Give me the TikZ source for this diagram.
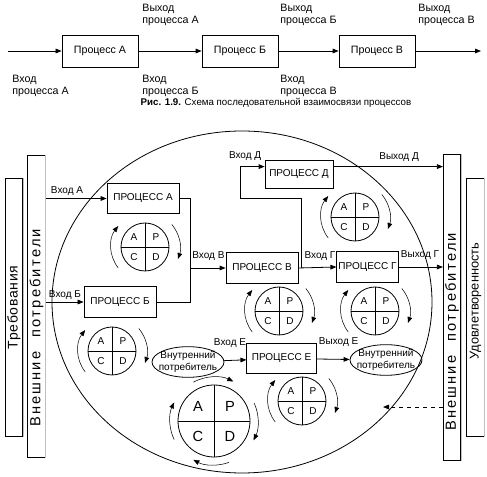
\documentclass[tikz,border=0pt]{standalone}
\usepackage{fontspec}
\setmainfont{Liberation Sans}
\usetikzlibrary{arrows.meta,positioning,shapes.geometric}

\begin{document}
\begin{tikzpicture}[
    x = 0.75pt, y = 0.75pt, % one unit is one pixel of the scan
    > = {Triangle[length=4.5pt,width=3.5pt]}, % arrow head style
    semithick, % line style
    font = \fontsize{7.5}{9}\selectfont
    ]

    \tikzset{
    proc/.style = {draw, minimum width=57pt, minimum height=24pt, font=\fontsize{8}{9}\selectfont},
    process/.style = {draw, inner sep=0pt, minimum width=54pt, minimum height=23pt},
    bar/.style = {draw, inner sep=0pt, minimum width=13pt},
    bartext/.style = {rotate=90, inner sep=0pt, font=\fontsize{10}{12}\selectfont},
    consumer/.style = {draw, ellipse, inner sep=0pt, minimum width=54pt, minimum height=23pt},
    pdca/.style = {draw, circle, inner sep=0pt, minimum size=36pt},
    lbl/.style = {inner sep=0pt, anchor=base west},
    note/.style = {inner sep=0pt, anchor=north west, align=left, font=\fontsize{8}{9}\selectfont}
    }
    \useasboundingbox (0,0) rectangle (487,-477);

    % sequence of processes
    \coordinate (in) at (8,-51);
    \node[proc] (p1) at (100,-51) {Процесс А};
    \node[proc] (p2) at (240,-51) {Процесс Б};
    \node[proc] (p3) at (377,-51) {Процесс В};
    \coordinate (out) at (481,-51);
    \draw[->] (in) -- (p1);
    \draw[->] (p1) -- (p2);
    \draw[->] (p2) -- (p3);
    \draw[->] (p3) -- (out);

    \node[note] (ia) at (12,-75) {Вход\\процесса А};
    \node[note] (oa) at (142,-4) {Выход\\процесса А};
    \node[note] (ib) at (142,-75) {Вход\\процесса Б};
    \node[note] (ob) at (280,-4) {Выход\\процесса Б};
    \node[note] (iv) at (280,-75) {Вход\\процесса В};
    \node[note] (ov) at (418,-4) {Выход\\процесса В};
    \node[inner sep=0pt, font=\fontsize{7.3}{9}\selectfont] (cap) at (276,-103) {\textbf{Рис. 1.9.} Схема последовательной взаимосвязи процессов};

    % processes and customers
    \draw (242,-302) ellipse [x radius=190, y radius=171];

    \node[bar, minimum height=194pt] (req) at (14,-307.5) {};
    \node[bartext, font=\fontsize{10.5}{12}\selectfont\addfontfeature{LetterSpace=5}] (reqt) at (req) {Требования};
    \node[bar, minimum height=227pt] (lcus) at (36.5,-306.5) {};
    \node[bartext, font=\fontsize{11}{12}\selectfont\addfontfeature{LetterSpace=15}] (lcust) at (36.5,-328) {Внешние\hspace{6pt} потребители};
    \node[bar, minimum height=229pt] (rcus) at (452,-307.5) {};
    \node[bartext, font=\fontsize{11}{12}\selectfont\addfontfeature{LetterSpace=15}] (rcust) at (452,-332) {Внешние\hspace{6pt} потребители};
    \node[bar, minimum height=194pt] (sat) at (475.5,-307.5) {};
    \node[bartext, font=\fontsize{9.6}{12}\selectfont] (satt) at (475.5,-301) {Удовлетворенность};
    \foreach \b in {req,lcus,rcus,sat}
        \draw[gray!50] (\b.north east) -- (\b.south east);

    \node[process] (pa) at (143,-198.5) {ПРОЦЕСС А};
    \node[process] (pb) at (120,-302) {ПРОЦЕСС Б};
    \node[process] (pv) at (262,-268) {ПРОЦЕСС В};
    \node[process, minimum width=46pt] (pg) at (367.5,-267) {ПРОЦЕСС Г};
    \node[process, minimum width=51pt, minimum height=21pt] (pd) at (299,-174) {ПРОЦЕСС Д};
    \node[process, minimum width=52pt] (pe) at (281.5,-358.5) {ПРОЦЕСС Е};

    \node[consumer] (ic1) at (188,-362) {};
    \node[align=center, inner sep=0pt] (ic1t) at (ic1) {Внутренний\\потребитель};
    \node[consumer] (ic2) at (386,-360) {};
    \node[align=center, inner sep=0pt] (ic2t) at (ic2) {Внутренний\\потребитель};

    \coordinate (jb) at (190,-268);
    \coordinate (jg) at (301,-268);
    \coordinate (dturn) at (240,-198);
    \coordinate (din) at ([yshift=-5.25pt]pd.north west);
    \coordinate (dout) at ([yshift=-5.25pt]pd.north east);
    \coordinate (fb) at (383,-407);

    \draw[->] (lcus.east |- pa.west) -- (pa.west) node[lbl, pos=0, shift={(5,5)}] {Вход А};
    \draw[->] (lcus.east |- pb.west) -- (pb.west) node[lbl, pos=0, shift={(3,4)}] {Вход Б};
    \draw (pa.east) -| (jb);
    \draw (pb.east) -| (jb);
    \draw[->] (jb) -- (pv.west) node[lbl, pos=0, shift={(2,9)}] {Вход В};
    \draw[->] (pv.east) -- (pg.west) node[lbl, pos=0.1, shift={(2,9)}] {Вход Г};
    \draw[->] (jg) |- (dturn) |- (din) node[lbl, pos=1, anchor=base east, shift={(-3,8)}] {Вход Д};
    \draw[->] (dout) -- (dout -| rcus.west) node[lbl, pos=0.6, anchor=base, shift={(0,7)}] {Выход Д};
    \draw[->] (pg.east) -- (pg.east -| rcus.west) node[lbl, pos=0, shift={(2,9)}] {Выход Г};
    \draw[->] (ic1) -- (pe) node[lbl, pos=1, anchor=base east, shift={(0,14)}] {Вход Е};
    \draw[->] (pe) -- (ic2) node[lbl, pos=0, shift={(2,14)}] {Выход Е};
    \draw[dashed, ->] (rcus.west |- fb) -- (fb);

    % PDCA cycles
    \foreach \n/\cx/\cy in {qa/145/247, qb/112/351, qv/279/311, qg/375/311, qd/355/217, qe/302/401} {
        \node[pdca] (\n) at (\cx,-\cy) {};
        \draw (\n.north) -- (\n.south) (\n.west) -- (\n.east);
        \node (\n-a) at ([shift={(-11,10)}]\n.center) {A};
        \node (\n-p) at ([shift={(11,10)}]\n.center) {P};
        \node (\n-c) at ([shift={(-11,-10)}]\n.center) {C};
        \node (\n-d) at ([shift={(11,-10)}]\n.center) {D};
        \draw[thin, ->] ([shift={(218:34)}]\n.center) arc[start angle=218, end angle=142, radius=34];
        \draw[thin, ->] ([shift={(40:35)}]\n.center) arc[start angle=40, end angle=-20, radius=35];
    }

    \node[pdca, minimum size=54pt] (qbig) at (214,-421) {};
    \draw (qbig.north) -- (qbig.south) (qbig.west) -- (qbig.east);
    \node[font=\fontsize{11}{13}\selectfont] (qbig-a) at ([shift={(-16,15)}]qbig.center) {A};
    \node[font=\fontsize{11}{13}\selectfont] (qbig-p) at ([shift={(16,15)}]qbig.center) {P};
    \node[font=\fontsize{11}{13}\selectfont] (qbig-c) at ([shift={(-16,-15)}]qbig.center) {C};
    \node[font=\fontsize{11}{13}\selectfont] (qbig-d) at ([shift={(16,-15)}]qbig.center) {D};
    \foreach \s/\e in {118/64, 24/-26, -70/-118, 205/155}
        \draw[thin, ->] ([shift={(\s:44)}]qbig.center) arc[start angle=\s, end angle=\e, radius=44];
\end{tikzpicture}
\end{document}
